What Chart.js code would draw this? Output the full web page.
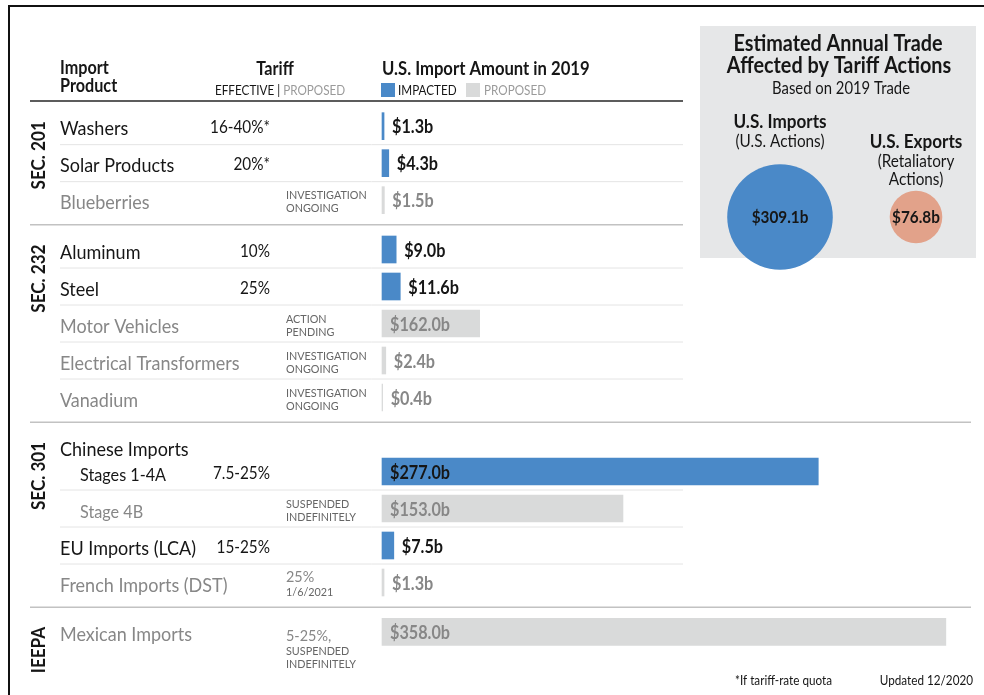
<!DOCTYPE html>
<html>
<head>
<meta charset="utf-8">
<script src="https://cdn.jsdelivr.net/npm/chart.js@4"></script>
<style>
  html, body { margin: 0; padding: 0; background: #fff; }
  #wrap { position: relative; width: 984px; height: 695px; overflow: hidden; }
  #main { position: absolute; left: 0; top: 0; }
  #trade { position: absolute; left: 712px; top: 152px; }
</style>
</head>
<body>
<div id="wrap">
  <canvas id="main" width="984" height="695"></canvas>
  <canvas id="trade" width="272" height="130"></canvas>
</div>
<script>
// ---- data ----
const products = ['Washers', 'Solar Products', 'Blueberries', 'Aluminum', 'Steel', 'Motor Vehicles',
  'Electrical Transformers', 'Vanadium', 'Chinese Imports', 'Stages 1-4A', 'Stage 4B',
  'EU Imports (LCA)', 'French Imports (DST)', 'Mexican Imports'];
const sections = ['SEC. 201', 'SEC. 232', 'SEC. 301', 'IEEPA'];
const productSection = [0, 0, 0, 1, 1, 1, 1, 1, 2, 2, 2, 2, 2, 3];
const subItem = [false, false, false, false, false, false, false, false, false, true, true, false, false, false];
const importStatus = ['impacted', 'impacted', 'proposed', 'impacted', 'impacted', 'proposed', 'proposed',
  'proposed', null, 'impacted', 'proposed', 'impacted', 'proposed', 'proposed'];
// labelled amounts, $ billions
const importBillions = [1.3, 4.3, 1.5, 9.0, 11.6, 162.0, 2.4, 0.4, null, 277.0, 153.0, 7.5, 1.3, 358.0];
// bar lengths as drawn in the source; the motor vehicles bar is drawn much shorter than its label
const barBillions = [1.3, 4.3, 1.5, 9.0, 11.6, 62.0, 2.4, 0.4, null, 277.0, 153.0, 7.5, 1.3, 358.0];
const tariffEffective = ['16-40%*', '20%*', '', '10%', '25%', '', '', '', '', '7.5-25%', '', '15-25%', '', ''];
const tariffProposed = ['', '', 'INVESTIGATION\nONGOING', '', '', 'ACTION\nPENDING', 'INVESTIGATION\nONGOING',
  'INVESTIGATION\nONGOING', '', '', 'SUSPENDED\nINDEFINITELY', '', '25%\n1/6/2021', '5-25%,\nSUSPENDED\nINDEFINITELY'];
const tradeGroups = ['U.S. Imports', 'U.S. Exports'];
const tradeNotes = ['(U.S. Actions)', '(Retaliatory\nActions)'];
const tradeBillions = [309.1, 76.8];

// ---- look ----
const BLUE = '#4a89c8';
const GREY_BAR = '#d9dada';
const SALMON = '#e2a28a';
const INK = '#161616';
const MUTED = '#878787';
const FONT = 'Lato';
const SQ = 0.9; // narrow the face a little, the original is a condensed sans

// rows sit on a slot grid: 3 slots per row, one extra at a section break, 2 under a group header
const rowSlot = [];
products.forEach((p, i) => {
  if (i === 0) { rowSlot.push(0); return; }
  let step = 3;
  if (importBillions[i - 1] === null) step = 2;
  else if (productSection[i] !== productSection[i - 1]) step = 4;
  rowSlot.push(rowSlot[i - 1] + step);
});
const slotCount = rowSlot[rowSlot.length - 1] + 1;
const slotLabels = Array.from({ length: slotCount }, () => '');
const impactedData = Array(slotCount).fill(null);
const proposedData = Array(slotCount).fill(null);
products.forEach((p, i) => {
  slotLabels[rowSlot[i]] = p;
  if (importStatus[i] === 'impacted') impactedData[rowSlot[i]] = barBillions[i];
  if (importStatus[i] === 'proposed') proposedData[rowSlot[i]] = barBillions[i];
});

function txt(ctx, s, x, y, size, opt) {
  opt = opt || {};
  ctx.save();
  ctx.font = (opt.bold ? 'bold ' : '') + size + 'px ' + FONT;
  ctx.fillStyle = opt.color || INK;
  ctx.textAlign = opt.align || 'left';
  ctx.textBaseline = opt.baseline || 'alphabetic';
  ctx.translate(x, y);
  if (opt.rotate) ctx.rotate(opt.rotate);
  ctx.scale(SQ, 1);
  ctx.fillText(s, 0, 0);
  ctx.restore();
}
function txtWidth(ctx, s, size, bold) {
  ctx.save();
  ctx.font = (bold ? 'bold ' : '') + size + 'px ' + FONT;
  const w = ctx.measureText(s).width * SQ;
  ctx.restore();
  return w;
}
function hline(ctx, x1, x2, y, color, w) {
  ctx.save();
  ctx.strokeStyle = color;
  ctx.lineWidth = w;
  ctx.beginPath();
  ctx.moveTo(x1, y);
  ctx.lineTo(x2, y);
  ctx.stroke();
  ctx.restore();
}

const infographic = {
  id: 'infographic',
  beforeDraw(chart) {
    const ctx = chart.ctx;
    const yS = chart.scales.y;
    const rowY = i => yS.getPixelForValue(rowSlot[i]);

    ctx.save();
    ctx.fillStyle = '#fff';
    ctx.fillRect(0, 0, chart.width, chart.height);
    // frame
    ctx.strokeStyle = '#111';
    ctx.lineWidth = 2;
    ctx.beginPath();
    ctx.moveTo(9, chart.height);
    ctx.lineTo(9, 6);
    ctx.lineTo(chart.width, 6);
    ctx.stroke();
    // side panel
    ctx.fillStyle = '#e6e7e8';
    ctx.fillRect(700, 26, 276, 232);
    ctx.restore();

    // panel texts
    txt(ctx, 'Estimated Annual Trade', 838, 51, 22, { bold: true, align: 'center' });
    txt(ctx, 'Affected by Tariff Actions', 839, 73, 22, { bold: true, align: 'center' });
    txt(ctx, 'Based on 2019 Trade', 841, 94, 16.5, { align: 'center' });
    const trade = chart.$trade;
    tradeGroups.forEach((g, i) => {
      const cx = trade ? 712 + trade.getDatasetMeta(0).data[i].x : 780 + i * 136;
      const notes = tradeNotes[i].split('\n');
      const top = i === 0 ? 128 : 148;
      txt(ctx, g, cx, top, 19, { bold: true, align: 'center' });
      notes.forEach((n, k) => txt(ctx, n, cx, top + 18.5 + k * 18, 17, { align: 'center' }));
    });

    // header
    txt(ctx, 'Import', 60, 74, 18, { bold: true });
    txt(ctx, 'Product', 60, 92, 18, { bold: true });
    txt(ctx, 'Tariff', 275, 75, 18, { bold: true, align: 'center' });
    const eff = 'EFFECTIVE | ';
    txt(ctx, eff, 215, 95, 13);
    txt(ctx, 'PROPOSED', 215 + txtWidth(ctx, eff, 13), 95, 13, { color: '#9a9a9a' });
    txt(ctx, 'U.S. Import Amount in 2019', 382, 75, 18.5, { bold: true });
    ctx.fillStyle = BLUE;
    ctx.fillRect(381, 83, 14, 14);
    txt(ctx, 'IMPACTED', 398, 95, 13);
    ctx.fillStyle = GREY_BAR;
    ctx.fillRect(466, 83, 14, 14);
    txt(ctx, 'PROPOSED', 484, 95, 13, { color: '#9a9a9a' });
    hline(ctx, 30, 683, 101, '#5c5c5c', 2);

    // rules between rows and sections
    for (let i = 1; i < products.length; i++) {
      const y = (rowY(i - 1) + rowY(i)) / 2;
      if (productSection[i] !== productSection[i - 1]) {
        hline(ctx, 30, y < 260 ? 683 : 971, y, '#c2c2c2', 1.5);
      } else if (importBillions[i - 1] !== null) {
        hline(ctx, 60, 683, y, '#e4e4e4', 1);
      }
    }

    // section names
    sections.forEach((s, k) => {
      const first = productSection.indexOf(k);
      txt(ctx, s, 38.5, rowY(first) - 5, 19, { bold: true, align: 'right', baseline: 'middle', rotate: -Math.PI / 2 });
    });

    // rows
    products.forEach((p, i) => {
      const y = rowY(i);
      const col = importStatus[i] === 'proposed' ? MUTED : INK;
      txt(ctx, p, subItem[i] ? 80 : 60, y + 9, subItem[i] ? 18 : 20, { color: col });
      if (tariffEffective[i]) txt(ctx, tariffEffective[i], 270, y + 7, 17, { align: 'right' });
      if (tariffProposed[i]) {
        const lines = tariffProposed[i].split('\n');
        let base = y + (lines.length > 2 ? 9 : -1);
        lines.forEach((l, k) => {
          const big = /^\d/.test(l) && k === 0;
          txt(ctx, l, 286, base, big ? 16 : 12, { color: big ? MUTED : '#666' });
          base += big ? 14 : 13;
        });
      }
    });

    // footnotes
    txt(ctx, '*If tariff-rate quota', 735, 685, 13);
    txt(ctx, 'Updated 12/2020', 973, 685, 13, { align: 'right' });
  },
  afterDatasetsDraw(chart) {
    const ctx = chart.ctx;
    const xS = chart.scales.x;
    const yS = chart.scales.y;
    products.forEach((p, i) => {
      const v = importBillions[i];
      if (v === null) return;
      const y = yS.getPixelForValue(rowSlot[i]);
      const s = '$' + v.toFixed(1) + 'b';
      const w = txtWidth(ctx, s, 18, true);
      const x0 = xS.getPixelForValue(0);
      const x1 = xS.getPixelForValue(barBillions[i]);
      const col = importStatus[i] === 'proposed' ? MUTED : INK;
      const x = (x1 - x0) > w + 16 ? x0 + 8 : x1 + 8;
      txt(ctx, s, x, y + 7, 18, { bold: true, color: col });
    });
  }
};

const mainChart = new Chart(document.getElementById('main'), {
  type: 'bar',
  data: {
    labels: slotLabels,
    datasets: [
      { label: 'Impacted', data: impactedData, backgroundColor: BLUE, barThickness: 27, grouped: false, clip: false },
      { label: 'Proposed', data: proposedData, backgroundColor: GREY_BAR, barThickness: 27, grouped: false, clip: false }
    ]
  },
  options: {
    indexAxis: 'y',
    responsive: false,
    animation: false,
    events: [],
    layout: { autoPadding: false, padding: { left: 382, right: 35, top: 120, bottom: 57 } },
    scales: {
      x: { type: 'linear', min: 0, max: 360, display: false },
      y: { type: 'category', offset: true, display: false }
    },
    plugins: { legend: { display: false }, tooltip: { enabled: false } }
  },
  plugins: [infographic]
});

// circle area follows the traded value
const BUBBLE_K = 52 / Math.sqrt(300);
const circleLabels = {
  id: 'circleLabels',
  afterDatasetsDraw(chart) {
    const ctx = chart.ctx;
    chart.getDatasetMeta(0).data.forEach((pt, i) => {
      txt(ctx, '$' + tradeBillions[i].toFixed(1) + 'b', pt.x, pt.y + 6, 17, { bold: true, align: 'center' });
    });
  }
};
const tradeChart = new Chart(document.getElementById('trade'), {
  type: 'bubble',
  data: {
    labels: tradeGroups,
    datasets: [{
      label: 'Affected trade',
      data: tradeBillions.map((v, i) => ({ x: tradeGroups[i], y: 0, r: BUBBLE_K * Math.sqrt(v) })),
      backgroundColor: [BLUE, SALMON],
      borderWidth: 0,
      clip: false
    }]
  },
  options: {
    responsive: false,
    animation: false,
    events: [],
    layout: { autoPadding: false, padding: 0 },
    scales: {
      x: { type: 'category', offset: true, display: false },
      y: { type: 'linear', min: -1, max: 1, display: false }
    },
    plugins: { legend: { display: false }, tooltip: { enabled: false } }
  },
  plugins: [circleLabels]
});
mainChart.$trade = tradeChart;
mainChart.draw();
</script>
</body>
</html>
